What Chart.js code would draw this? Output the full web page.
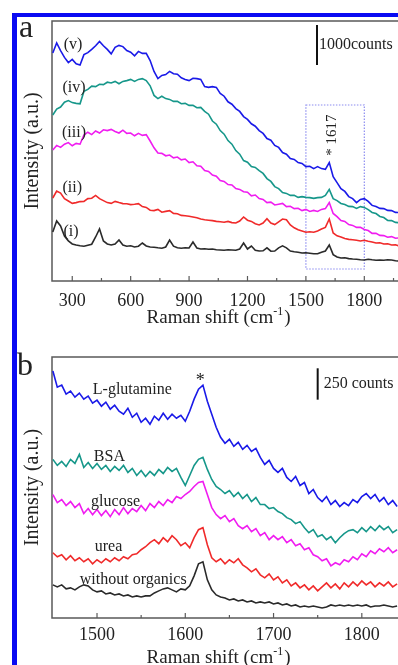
<!DOCTYPE html>
<html>
<head>
<meta charset="utf-8">
<script src="https://cdn.jsdelivr.net/npm/chart.js@4.4.1/dist/chart.umd.min.js"></script>
<style>
  html, body { margin: 0; padding: 0; background: #fff; overflow: hidden; }
  body { width: 398px; height: 665px; position: relative; }
  #frame { position: absolute; left: 12px; top: 13px; width: 500px; height: 700px;
           border-left: 5px solid #0a0af2; border-top: 4px solid #0a0af2; }
  canvas { position: absolute; left: 0; }
  #chartA { top: 0; }
  #chartB { top: 340px; }
</style>
</head>
<body>
<div id="frame"></div>
<canvas id="chartA" width="398" height="340"></canvas>
<canvas id="chartB" width="398" height="325"></canvas>
<script>
// ---- panel a: Raman shift (cm-1) and intensity (counts) ----
var ramanA = [200,220,240,260,280,300,320,340,360,380,400,420,440,460,480,500,520,540,560,580,
  600,620,640,660,680,700,720,740,760,780,800,820,840,860,880,900,920,940,960,980,
  1000,1020,1040,1060,1080,1100,1120,1140,1160,1180,1200,1220,1240,1260,1280,1300,1320,1340,1360,1380,
  1400,1420,1440,1460,1480,1500,1520,1540,1560,1580,1600,1620,1640,1660,1680,1700,1720,1740,1760,1780,
  1800,1820,1840,1860,1880,1900,1920,1940,1960,1980];

var specI = [1225,1500,1375,1125,1000,925,900,880,870,895,
  920,1100,1300,1000,925,900,925,1025,900,870,
  880,850,870,950,875,850,845,830,820,850,
  1025,870,830,820,830,825,975,825,800,805,
  795,800,780,775,770,780,775,770,800,950,
  800,875,770,750,755,830,745,750,830,880,
  830,750,730,720,700,705,695,680,680,720,
  750,900,660,600,575,580,560,550,545,530,
  525,545,530,520,525,520,530,525,505,500];

var specII = [2075,2250,2200,2060,2000,1940,1960,1985,1990,2060,
  2070,2140,2060,2010,1960,1940,1990,1960,1935,1930,
  1910,1920,1935,1860,1840,1770,1760,1790,1720,1740,
  1760,1690,1680,1640,1630,1620,1600,1580,1550,1530,
  1520,1510,1490,1480,1470,1490,1460,1450,1500,1600,
  1520,1490,1430,1400,1450,1560,1450,1410,1480,1550,
  1530,1400,1330,1280,1250,1220,1230,1220,1250,1300,
  1340,1550,1200,1130,1100,1060,1040,1030,1020,1000,
  1020,995,975,950,955,925,930,900,905,875];

var specIII = [3275,3390,3340,3420,3460,3380,3440,3420,3650,3720,
  3660,3750,3700,3780,3760,3790,3740,3700,3770,3690,
  3700,3630,3690,3640,3660,3500,3330,3200,3190,3130,
  3150,3080,3100,3030,3050,2960,2980,2880,2870,2760,
  2740,2650,2620,2510,2490,2410,2400,2310,2290,2230,
  2220,2130,2150,2060,2040,1960,1970,1900,1920,1940,
  1860,1870,1810,1820,1760,1790,1740,1765,1740,1790,
  1810,1960,1690,1610,1510,1490,1410,1390,1340,1340,
  1290,1260,1190,1190,1140,1135,1095,1110,1070,1080];

var specIV = [4150,4300,4350,4470,4510,4460,4440,4430,4740,4790,
  4870,4860,4920,4910,4970,4950,4990,4930,4990,5010,
  5040,4990,5040,5060,5010,4880,4640,4560,4620,4560,
  4540,4490,4490,4430,4440,4390,4390,4330,4340,4240,
  4170,4000,3920,3760,3670,3510,3420,3260,3170,3010,
  2970,2860,2840,2760,2690,2560,2490,2360,2310,2210,
  2190,2140,2140,2090,2110,2090,2085,2065,2085,2090,
  2140,2290,2060,2010,1940,1910,1865,1860,1815,1860,
  1840,1785,1715,1685,1615,1585,1515,1510,1465,1455];

var specV = [5700,5950,5760,5590,5460,5540,5430,5400,5660,5710,
  5790,5880,5990,5880,5790,5680,5840,5890,5860,5760,
  5720,5630,5740,5690,5690,5510,5240,5060,5140,5160,
  5240,5180,5170,5080,5040,5010,5070,5060,5040,4860,
  4840,4860,4840,4690,4620,4480,4420,4310,4240,4110,
  4040,3930,3870,3760,3690,3560,3520,3390,3340,3210,
  3170,3060,3040,2960,2940,2860,2870,2810,2860,2810,
  2790,2960,2610,2460,2310,2240,2110,2060,1960,2040,
  2060,1990,1890,1860,1815,1810,1765,1760,1715,1710];

var tickMajorA = [300,600,900,1200,1500,1800];
var tickMinorA = [450,750,1050,1350,1650,1950];

// ---- panel b ----
var ramanB = [1450,1455,1460,1465,1470,1475,1480,1485,1490,1495,1500,1505,1510,1515,1520,1525,1530,1535,1540,1545,
  1550,1555,1560,1565,1570,1575,1580,1585,1590,1595,1600,1605,1610,1615,1620,1625,1630,1635,1640,1645,
  1650,1655,1660,1665,1670,1675,1680,1685,1690,1695,1700,1705,1710,1715,1720,1725,1730,1735,1740,1745,
  1750,1755,1760,1765,1770,1775,1780,1785,1790,1795,1800,1805,1810,1815,1820,1825,1830,1835,1840];

var glutamine = [1968,1840,1856,1784,1808,1760,1792,1744,1768,1712,
  1736,1688,1720,1664,1696,1648,1624,1672,1600,1632,
  1560,1592,1544,1608,1576,1632,1584,1624,1592,1616,
  1568,1648,1744,1824,1856,1728,1624,1520,1440,1392,
  1424,1368,1400,1344,1376,1328,1352,1280,1224,1256,
  1192,1160,1192,1120,1088,1128,1056,1080,992,1024,
  960,928,968,904,936,888,920,896,944,920,
  968,992,952,984,928,960,904,936,888];

var bsa = [1264,1216,1248,1208,1264,1232,1304,1200,1240,1192,
  1232,1184,1216,1168,1208,1176,1216,1160,1192,1136,
  1176,1128,1168,1136,1184,1152,1200,1168,1192,1120,
  1056,1136,1216,1264,1280,1184,1104,1048,1024,992,
  1016,968,1000,952,984,928,960,904,904,872,
  880,848,832,800,784,752,768,720,680,704,
  648,664,624,648,600,640,672,696,704,680,
  720,688,728,696,736,704,728,680,704];

var glucose = [984,920,944,896,928,880,912,832,872,824,
  864,816,856,808,864,824,880,832,872,848,
  896,856,912,880,928,896,944,920,968,952,
  984,1008,1048,1080,1088,984,880,824,792,816,
  768,792,736,712,736,688,712,656,680,624,
  656,624,648,600,624,576,592,544,560,504,
  488,456,472,416,440,424,464,448,488,464,
  512,488,536,512,552,528,560,520,544];

var urea = [520,488,504,464,496,456,480,448,472,432,
  464,440,472,448,480,456,488,472,504,512,
  544,568,600,624,592,640,608,656,624,576,
  600,560,640,704,720,584,480,448,472,432,
  464,440,472,424,400,368,392,344,320,352,
  304,328,280,304,256,280,240,264,224,256,
  216,248,280,240,272,232,280,248,288,256,
  296,264,288,248,280,256,288,248,272];

var noOrganics = [264,248,264,232,240,224,248,264,256,224,
  208,216,192,200,184,192,176,184,168,176,
  168,176,176,200,216,232,240,224,208,232,
  224,256,336,432,448,304,224,184,168,160,
  144,152,136,144,128,136,120,128,120,128,
  112,120,104,112,96,104,88,96,88,96,
  88,80,88,104,96,104,96,104,96,104,
  96,104,88,96,96,104,96,88,96];

var tickMajorB = [1500,1600,1700,1800];
var tickMinorB = [1550,1650,1750];

var SERIF = '"Liberation Serif", "Times New Roman", serif';
var INK = '#222';
var BLUE = '#1a1ae8', TEAL = '#16978a', MAGENTA = '#f01cf0', RED = '#f02a2a', BLACK = '#2a2a2a';

function makeDecor(cfg) {
  return {
    id: 'decor',
    beforeDatasetsDraw(chart) {
      const {ctx, chartArea: a, scales: {x, y}} = chart;
      ctx.save();
      ctx.strokeStyle = '#5a5a5a';
      ctx.lineWidth = 1.5;
      ctx.beginPath();
      ctx.moveTo(a.right + 10, a.top);
      ctx.lineTo(a.left, a.top);
      ctx.lineTo(a.left, a.bottom);
      ctx.lineTo(a.right + 10, a.bottom);
      ctx.stroke();
      ctx.lineWidth = 1.2;
      cfg.majors.concat(cfg.minors).forEach(v => {
        const px = x.getPixelForValue(v);
        const len = cfg.majors.includes(v) ? 5 : 3;
        ctx.beginPath();
        ctx.moveTo(px, a.bottom);
        ctx.lineTo(px, a.bottom - len);
        ctx.stroke();
      });
      if (cfg.box) {
        const b = cfg.box;
        ctx.strokeStyle = '#8c8cf0';
        ctx.lineWidth = 1.2;
        ctx.setLineDash([1.5, 1.5]);
        const x0 = x.getPixelForValue(b.x0), x1 = x.getPixelForValue(b.x1);
        const y0 = y.getPixelForValue(b.y0), y1 = y.getPixelForValue(b.y1);
        ctx.strokeRect(x0, y1, x1 - x0, y0 - y1);
        ctx.setLineDash([]);
      }
      ctx.restore();
    },
    afterDraw(chart) {
      const {ctx, chartArea: a, scales: {x, y}} = chart;
      ctx.save();
      ctx.fillStyle = INK;
      // panel letter
      ctx.font = '32px ' + SERIF;
      ctx.textAlign = 'left';
      ctx.textBaseline = 'alphabetic';
      ctx.fillText(cfg.letter, cfg.letterPos[0], cfg.letterPos[1]);
      // y title
      ctx.font = '20px ' + SERIF;
      ctx.save();
      ctx.translate(33, (a.top + a.bottom) / 2);
      ctx.rotate(-Math.PI / 2);
      ctx.textAlign = 'center';
      ctx.textBaseline = 'middle';
      ctx.fillText('Intensity (a.u.)', 0, 0);
      ctx.restore();
      // x title with superscript
      const main = 'Raman shift (cm', sup = '-1', end = ')';
      ctx.font = '19px ' + SERIF;
      const w1 = ctx.measureText(main).width, w3 = ctx.measureText(end).width;
      ctx.font = '12px ' + SERIF;
      const w2 = ctx.measureText(sup).width;
      let tx = 218 - (w1 + w2 + w3) / 2;
      ctx.textAlign = 'left';
      ctx.textBaseline = 'alphabetic';
      ctx.font = '19px ' + SERIF;
      ctx.fillText(main, tx, 323);
      ctx.font = '12px ' + SERIF;
      ctx.fillText(sup, tx + w1, 315);
      ctx.font = '19px ' + SERIF;
      ctx.fillText(end, tx + w1 + w2 + 1, 323);
      // curve labels
      cfg.labels.forEach(l => {
        ctx.font = l.size + 'px ' + SERIF;
        const px = x.getPixelForValue(l.x), py = y.getPixelForValue(l.y);
        ctx.save();
        ctx.translate(px, py);
        if (l.rot) ctx.rotate(-Math.PI / 2);
        ctx.textAlign = 'center';
        ctx.textBaseline = l.base || 'middle';
        ctx.fillText(l.text, 0, 0);
        ctx.restore();
      });
      // scale bar
      const s = cfg.bar;
      const bx = x.getPixelForValue(s.x);
      const by0 = y.getPixelForValue(s.y0), by1 = y.getPixelForValue(s.y1);
      ctx.strokeStyle = '#111';
      ctx.lineWidth = 2;
      ctx.beginPath();
      ctx.moveTo(bx, by0);
      ctx.lineTo(bx, by1);
      ctx.stroke();
      ctx.font = '16px ' + SERIF;
      ctx.textAlign = 'left';
      ctx.textBaseline = 'middle';
      ctx.fillText(s.text, bx + s.gap, (by0 + by1) / 2);
      ctx.restore();
    }
  };
}

function lineSet(data, color) {
  return { data: data, borderColor: color, borderWidth: 1.6, pointRadius: 0, tension: 0, fill: false };
}

function makeChart(id, cfg) {
  const allTicks = cfg.majors.concat(cfg.minors).sort((p, q) => p - q);
  return new Chart(document.getElementById(id), {
    type: 'line',
    data: { labels: cfg.xs, datasets: cfg.sets },
    options: {
      responsive: false,
      devicePixelRatio: 1,
      animation: false,
      layout: { padding: { left: 52, top: cfg.top, right: 0, bottom: 0 } },
      plugins: { legend: { display: false }, tooltip: { enabled: false } },
      scales: {
        x: {
          type: 'linear', min: cfg.xmin, max: cfg.xmax,
          grid: { display: false }, border: { display: false },
          afterBuildTicks: sc => { sc.ticks = allTicks.map(v => ({ value: v })); },
          afterFit: sc => { sc.height = cfg.axisH; sc.paddingLeft = 0; sc.paddingRight = 0; },
          ticks: {
            autoSkip: false, maxRotation: 0, padding: cfg.tickPad, color: INK,
            font: { family: SERIF, size: 18 },
            callback: v => cfg.majors.includes(v) ? String(v) : ''
          }
        },
        y: { display: false, min: 0, max: cfg.ymax }
      }
    },
    plugins: [makeDecor(cfg)]
  });
}

makeChart('chartA', {
  xs: ramanA, xmin: 196, xmax: 1973, ymax: 6500, top: 21, axisH: 59, tickPad: 1,
  majors: tickMajorA, minors: tickMinorA, letter: 'a', letterPos: [19, 37],
  sets: [lineSet(specI, BLACK), lineSet(specII, RED), lineSet(specIII, MAGENTA), lineSet(specIV, TEAL), lineSet(specV, BLUE)],
  box: { x0: 1500, x1: 1800, y0: 300, y1: 4400 },
  bar: { x: 1557, y0: 5400, y1: 6400, text: '1000counts', gap: 2 },
  labels: [
    { text: '(v)', x: 304, y: 5900, size: 16 },
    { text: '(iv)', x: 309, y: 4825, size: 16 },
    { text: '(iii)', x: 309, y: 3700, size: 16 },
    { text: '(ii)', x: 300, y: 2325, size: 16 },
    { text: '(i)', x: 294, y: 1225, size: 16 },
    { text: '* 1617', x: 1634, y: 3650, size: 15, rot: true }
  ]
});

makeChart('chartB', {
  xs: ramanB, xmin: 1449, xmax: 1841, ymax: 2080, top: 17, axisH: 47, tickPad: -2,
  majors: tickMajorB, minors: tickMinorB, letter: 'b', letterPos: [17, 35],
  sets: [lineSet(noOrganics, BLACK), lineSet(urea, RED), lineSet(glucose, MAGENTA), lineSet(bsa, TEAL), lineSet(glutamine, BLUE)],
  bar: { x: 1750, y0: 1740, y1: 1990, text: '250 counts', gap: 6 },
  labels: [
    { text: 'L-glutamine', x: 1540, y: 1816, size: 16 },
    { text: 'BSA', x: 1514, y: 1288, size: 16 },
    { text: 'glucose', x: 1521, y: 928, size: 16 },
    { text: 'urea', x: 1513, y: 568, size: 16 },
    { text: 'without organics', x: 1541, y: 304, size: 16 },
    { text: '*', x: 1617, y: 1850, size: 18, base: 'alphabetic' }
  ]
});
</script>
</body>
</html>
